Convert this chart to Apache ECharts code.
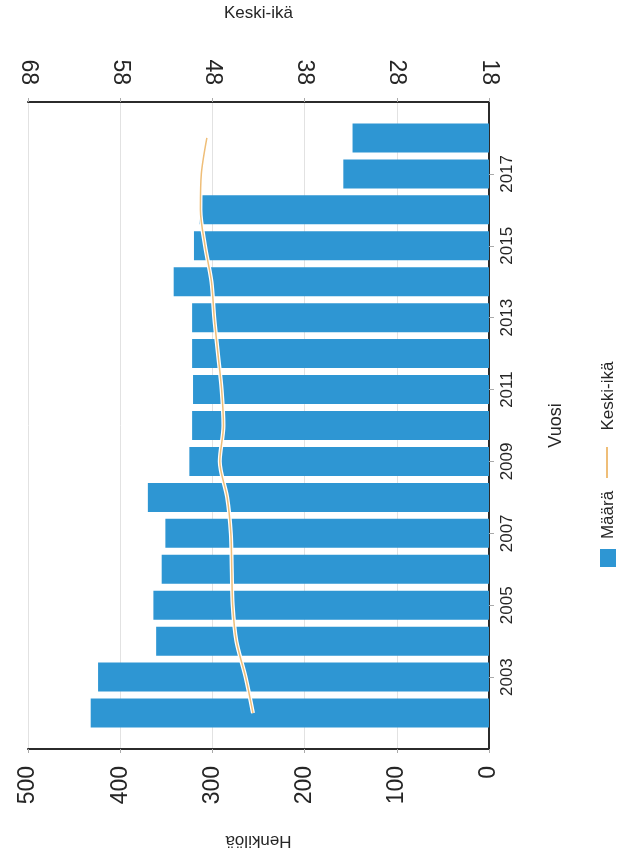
<!DOCTYPE html>
<html>
<head>
<meta charset="utf-8">
<script src="https://cdn.jsdelivr.net/npm/echarts@6/dist/echarts.min.js"></script>
<style>
html,body{margin:0;padding:0;background:#fff;}
#chart{width:619px;height:859px;}
</style>
</head>
<body>
<div id="chart"></div>
<script>
// Data
var years = ['2002','2003','2004','2005','2006','2007','2008','2009','2010','2011','2012','2013','2014','2015','2016','2017','2018'];
var maara = [432, 424, 361, 364, 355, 351, 370, 325, 322, 321, 322, 322, 342, 320, 314, 158, 148];
var keskiIka = [43.6, 44.4, 45.4, 45.8, 45.9, 46.0, 46.4, 47.2, 46.8, 47.0, 47.4, 47.8, 48.1, 48.8, 49.3, 49.2, 48.6];
var yearTickLabels = ['2003','2005','2007','2009','2011','2013','2015','2017'];
var countTicks = [0, 100, 200, 300, 400, 500];
var ageTicks = [18, 28, 38, 48, 58, 68];

// padded category axis (empty slot at each end)
var cats = [''].concat(years).concat([' ']);
var barData = [null].concat(maara).concat([null]);
var lineData = [null].concat(keskiIka).concat([null]);

var FONT = 'Liberation Sans, Arial, sans-serif';
var TXT = '#262626';
var BLUE = '#2e96d3';
var ORANGE = '#efbe78';

var chart = echarts.init(document.getElementById('chart'), null, {renderer: 'canvas'});
var showYear = function (idx, val) { return yearTickLabels.indexOf(cats[idx]) >= 0; };

chart.setOption({
  animation: false,
  backgroundColor: '#fff',
  grid: {left: 28, right: 130, top: 97, bottom: 110, containLabel: false},
  xAxis: [
    {
      type: 'value', min: countTicks[0], max: countTicks[countTicks.length - 1], interval: 100,
      inverse: true, position: 'bottom',
      name: 'Henkilöä', nameLocation: 'middle', nameGap: 83, nameRotate: 180,
      nameTextStyle: {fontSize: 17, color: TXT, fontFamily: FONT},
      axisLine: {show: true, lineStyle: {color: '#2b2b2b', width: 2}},
      axisTick: {show: true, length: 4, lineStyle: {color: '#aaa'}},
      axisLabel: {rotate: 90, fontSize: 23, color: TXT, fontFamily: FONT, margin: 17},
      splitLine: {show: true, lineStyle: {color: '#e2e2e2', width: 1}}
    },
    {
      type: 'value', min: ageTicks[0], max: ageTicks[ageTicks.length - 1], interval: 10,
      inverse: true, position: 'top',
      name: 'Keski-ikä', nameLocation: 'middle', nameGap: 80, nameRotate: 0,
      nameTextStyle: {fontSize: 17, color: TXT, fontFamily: FONT},
      axisLine: {show: true, lineStyle: {color: '#2b2b2b', width: 2}},
      axisTick: {show: true, length: 4, lineStyle: {color: '#aaa'}},
      axisLabel: {rotate: 90, fontSize: 23, color: TXT, fontFamily: FONT, margin: 17},
      splitLine: {show: false}
    }
  ],
  yAxis: [{
    type: 'category', data: cats, boundaryGap: false, position: 'right',
    name: 'Vuosi', nameLocation: 'middle', nameGap: 58, nameRotate: 90,
    nameTextStyle: {fontSize: 18, color: TXT, fontFamily: FONT},
    axisLine: {show: true, lineStyle: {color: '#2b2b2b', width: 2}},
    axisTick: {show: true, length: 5, interval: showYear, lineStyle: {color: '#aaa'}},
    axisLabel: {rotate: 90, fontSize: 17, color: TXT, fontFamily: FONT, margin: 10, interval: showYear},
    splitLine: {show: false}
  }],
  series: [
    {
      name: 'Määrä', type: 'bar', xAxisIndex: 0, yAxisIndex: 0,
      data: barData, barWidth: 29, itemStyle: {color: BLUE}, z: 2
    },
    {
      name: 'halo', type: 'line', xAxisIndex: 1, yAxisIndex: 0,
      data: lineData, smooth: 0.3, symbol: 'none',
      lineStyle: {color: '#ffffff', width: 4}, z: 3, silent: true
    },
    {
      name: 'Keski-ikä', type: 'line', xAxisIndex: 1, yAxisIndex: 0,
      data: lineData, smooth: 0.3, symbol: 'none',
      lineStyle: {color: ORANGE, width: 1.5}, z: 4
    }
  ],
  graphic: [
    {type: 'rect', shape: {x: 600, y: 549, width: 16, height: 18}, style: {fill: BLUE}},
    {type: 'text', x: 608, y: 515, rotation: Math.PI / 2,
      style: {text: 'Määrä', font: '17px ' + FONT, fill: TXT, align: 'center', verticalAlign: 'middle'}},
    {type: 'line', shape: {x1: 607, y1: 447, x2: 607, y2: 478}, style: {stroke: ORANGE, lineWidth: 2}},
    {type: 'text', x: 608, y: 396, rotation: Math.PI / 2,
      style: {text: 'Keski-ikä', font: '17px ' + FONT, fill: TXT, align: 'center', verticalAlign: 'middle'}}
  ]
});
</script>
</body>
</html>
